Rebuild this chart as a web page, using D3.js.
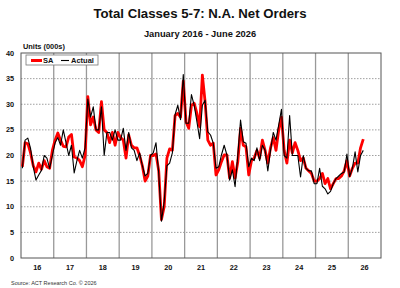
<!DOCTYPE html>
<html><head><meta charset="utf-8">
<script src="https://cdn.jsdelivr.net/npm/d3@7"></script>
<style>
html,body{margin:0;padding:0;background:#fff;}
svg{display:block;font-family:"Liberation Sans",Arial,sans-serif;}
</style></head>
<body><svg id="c" width="400" height="288"></svg>
<script>
const title = "Total Classes 5-7: N.A. Net Orders";
const subtitle = "January 2016 - June 2026";
const yTicks = [0,5,10,15,20,25,30,35,40];
const yearLabels = ["16","17","18","19","20","21","22","23","24","25","26"];
const startYear = 2016;
const seriesNames = ["SA","Actual"];
const saValues = [
 17.8,22.5,22.3,20.5,18,16.8,18.5,17.3,19,17.8,17.5,21,
 23,24.4,23,21.8,21.7,23.6,24.1,19.7,19.5,19,17.8,20,
 31.5,26,27.5,25,24.5,30.5,25,24.5,22.5,24.5,22,24.5,
 23.5,23,19.5,24,22,21.5,21.5,20,18,15,16,20,
 20,20.3,17,7.5,10,19.5,21.3,21,27.8,28.2,27.5,34.5,
 26.6,25.3,29.8,30.2,28.2,25.6,35.7,30.5,23,22,22.4,16.2,
 17.2,18.8,20.1,20.1,15.6,18.8,15.6,18.8,25.3,22,21.7,16.2,
 19,19.5,21,19.5,23,21,18.5,21.5,23.5,21,25,27.5,
 21,18.5,23,20.5,22.5,21,19,19.5,17.5,17,16.5,15,
 15,15.5,16.5,14.5,15.5,13.5,14.5,15.5,15.5,16,17,19,
 16,17.5,18.5,18.5,21.5,23.2
];
const actualValues = [
 17.5,23,23.4,21.4,17.8,15.2,16.2,17.1,20,19.5,17.5,20,
 22.5,23.5,22,25,22.5,20,22,16.6,19,21,19.5,21.5,
 31,27.5,29.5,25,25,29.5,20,24.5,24.5,23,25,23,
 23,25.3,21,24.5,21.5,21,19,20.5,18,16,16.5,20,
 20.5,22.5,16.5,7.2,11,18,18.5,20.5,28,29.8,27,35.8,
 26.3,26.3,31.9,29.8,26.6,23.3,29.8,30.8,24.6,24,22.4,17.5,
 17.8,20.1,22,20.1,15.2,17.2,13.9,20.1,26.9,22.7,22.4,17.8,
 19.5,19,21.5,19,22,21,17,21,24.5,23,26,29,
 20,19.5,27.8,20,20,20,15.8,20,17.5,17,17,14.5,
 14.5,17.5,14,13.5,12.5,13,14.5,15.5,16,16.5,16.8,20.3,
 15.9,17.5,20.7,16.8,20,21
];

const svg = d3.select("#c");
const L=21, R=381, T=53, B=258;
const x = d3.scaleLinear().domain([0, yearLabels.length*12]).range([L,R]);
const y = d3.scaleLinear().domain([0,40]).range([B,T]);

// titles
svg.append("text").attr("x",200).attr("y",18).attr("text-anchor","middle")
  .attr("font-size",13.2).attr("font-weight","bold").attr("fill","#111").text(title);
svg.append("text").attr("x",200).attr("y",37).attr("text-anchor","middle")
  .attr("font-size",9.3).attr("font-weight","bold").attr("fill","#111").text(subtitle);
svg.append("text").attr("x",23).attr("y",49).attr("font-size",7.4)
  .attr("font-weight","bold").attr("fill","#111").text("Units (000s)");

// horizontal dotted grid
svg.append("g").selectAll("line").data(yTicks.filter(d=>d>0&&d<40)).join("line")
  .attr("x1",L).attr("x2",R).attr("y1",d=>y(d)).attr("y2",d=>y(d))
  .attr("stroke","#888").attr("stroke-width",0.8).attr("stroke-dasharray","1.5,1.5");

// vertical year separators
svg.append("g").selectAll("line").data(d3.range(1,yearLabels.length)).join("line")
  .attr("x1",d=>x(d*12)).attr("x2",d=>x(d*12)).attr("y1",T).attr("y2",B)
  .attr("stroke","#999").attr("stroke-width",1.3);

// border
svg.append("rect").attr("x",L).attr("y",T).attr("width",R-L).attr("height",B-T)
  .attr("fill","none").attr("stroke","#555").attr("stroke-width",1);

// y axis labels
svg.append("g").selectAll("text").data(yTicks).join("text")
  .attr("x",14).attr("y",d=>y(d)+2.5).attr("text-anchor","end")
  .attr("font-size",7.3).attr("font-weight","bold").attr("fill","#111").text(d=>d);

// year labels
svg.append("g").selectAll("text").data(yearLabels).join("text")
  .attr("x",(d,i)=>x(i*12+6)).attr("y",270).attr("text-anchor","middle")
  .attr("font-size",7.3).attr("font-weight","bold").attr("fill","#111").text(d=>d);

const line = d3.line().x((d,i)=>x(i+0.5)).y(d=>y(d));
svg.append("path").datum(saValues).attr("d",line).attr("fill","none")
  .attr("stroke","#ff0000").attr("stroke-width",2.8).attr("stroke-linejoin","round");
svg.append("path").datum(actualValues).attr("d",line).attr("fill","none")
  .attr("stroke","#000").attr("stroke-width",1.1).attr("stroke-linejoin","round");

// legend
const lg = svg.append("g");
lg.append("rect").attr("x",26).attr("y",55).attr("width",72).attr("height",10)
  .attr("fill","#fff").attr("stroke","#777").attr("stroke-width",0.8);
lg.append("line").attr("x1",31).attr("x2",42).attr("y1",60.5).attr("y2",60.5)
  .attr("stroke","#ff0000").attr("stroke-width",3);
lg.append("text").attr("x",43).attr("y",63).attr("font-size",7.5).attr("font-weight","bold")
  .attr("fill","#111").text(seriesNames[0]);
lg.append("line").attr("x1",61).attr("x2",69).attr("y1",60.5).attr("y2",60.5)
  .attr("stroke","#000").attr("stroke-width",1.1);
lg.append("text").attr("x",71).attr("y",63).attr("font-size",7.5).attr("font-weight","bold")
  .attr("fill","#111").text(seriesNames[1]);

// source
svg.append("text").attr("x",11).attr("y",285).attr("font-size",5.5).attr("fill","#333")
  .text("Source: ACT Research Co. \u00a9 2026");
</script></body></html>
